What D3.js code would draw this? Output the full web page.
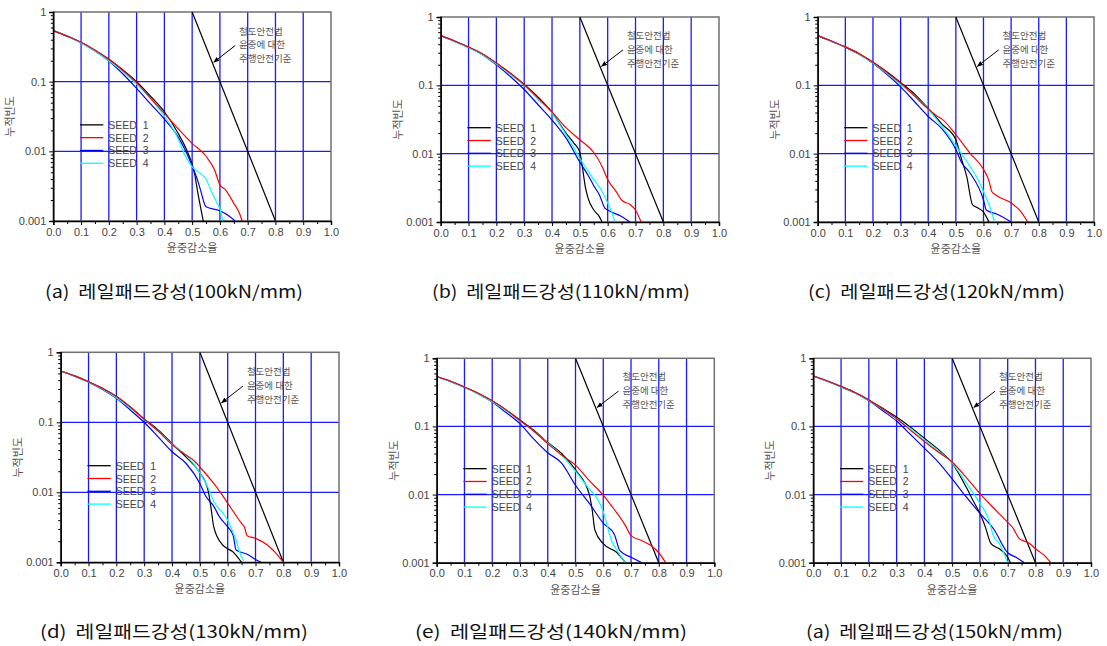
<!DOCTYPE html>
<html>
<head>
<meta charset="utf-8">
<script src="https://cdn.jsdelivr.net/npm/d3@7/dist/d3.min.js"></script>
<style>
  body { margin: 0; background: #fff; }
  text { white-space: pre; }
</style>
</head>
<body>
<div id="chart"></div>
<script>
// tick values / labels
var xTicks = [0, 0.1, 0.2, 0.3, 0.4, 0.5, 0.6, 0.7, 0.8, 0.9, 1.0];
var xMinor = [0.05, 0.15, 0.25, 0.35, 0.45, 0.55, 0.65, 0.75, 0.85, 0.95];
var yTicks = [1, 0.1, 0.01, 0.001];
var yTickLabels = ["1", "0.1", "0.01", "0.001"];
var yGrid = [0.1, 0.01];
var xGrid = [0.1, 0.2, 0.3, 0.4, 0.5, 0.6, 0.7, 0.8, 0.9];

var seedNames = ["SEED  1", "SEED  2", "SEED  3", "SEED  4"];
var seedColors = ["#000000", "#ff0000", "#0000ff", "#00ffff"];

var captions = ["(a)  레일패드강성(100kN/mm)", "(b)  레일패드강성(110kN/mm)", "(c)  레일패드강성(120kN/mm)",
                "(d)  레일패드강성(130kN/mm)", "(e)  레일패드강성(140kN/mm)", "(a)  레일패드강성(150kN/mm)"];

// 주행안전기준 line (x, y)
var criterion = [[0.5, 1], [0.8, 0.001]];
var noteLines = ["철도안전법", "윤중에 대한", "주행안전기준"];
var xLabel = "윤중감소율";
var yLabel = "누적빈도";

// panel (a) 100kN/mm
var a_seed1 = [[0,0.54],[0.05,0.45],[0.1,0.365],[0.15,0.28],[0.2,0.21],[0.25,0.148],[0.3,0.1],[0.35,0.062],[0.4,0.037],[0.45,0.018],[0.48,0.0105],[0.5,0.0065],[0.51,0.0045],[0.52,0.0026],[0.53,0.0016],[0.54,0.001]];
var a_seed2 = [[0,0.54],[0.05,0.45],[0.1,0.368],[0.15,0.285],[0.2,0.21],[0.25,0.146],[0.3,0.097],[0.35,0.058],[0.4,0.035],[0.45,0.021],[0.5,0.013],[0.55,0.0085],[0.58,0.0055],[0.6,0.0033],[0.62,0.0028],[0.65,0.0018],[0.67,0.0013],[0.68,0.001]];
var a_seed3 = [[0,0.54],[0.05,0.45],[0.1,0.362],[0.15,0.275],[0.2,0.198],[0.25,0.13],[0.3,0.08],[0.35,0.048],[0.4,0.029],[0.45,0.016],[0.48,0.0095],[0.5,0.0062],[0.52,0.0038],[0.53,0.0028],[0.55,0.0016],[0.6,0.0014],[0.63,0.0012],[0.655,0.001]];
var a_seed4 = [[0,0.54],[0.05,0.45],[0.1,0.36],[0.15,0.275],[0.2,0.2],[0.25,0.14],[0.3,0.093],[0.35,0.057],[0.4,0.032],[0.45,0.015],[0.47,0.0095],[0.5,0.006],[0.53,0.0048],[0.55,0.004],[0.57,0.0026],[0.59,0.0018],[0.6,0.0015],[0.61,0.001]];

// panel (b) 110kN/mm
var b_seed1 = [[0,0.535],[0.05,0.445],[0.1,0.36],[0.15,0.285],[0.2,0.21],[0.25,0.15],[0.3,0.103],[0.35,0.067],[0.4,0.04],[0.45,0.02],[0.48,0.014],[0.5,0.0105],[0.51,0.006],[0.52,0.0032],[0.53,0.0022],[0.55,0.0015],[0.57,0.0012],[0.58,0.001]];
var b_seed2 = [[0,0.535],[0.05,0.445],[0.1,0.365],[0.15,0.29],[0.2,0.212],[0.25,0.15],[0.3,0.102],[0.35,0.065],[0.4,0.041],[0.45,0.024],[0.5,0.016],[0.55,0.0104],[0.58,0.0065],[0.6,0.0042],[0.63,0.0028],[0.65,0.0021],[0.68,0.0018],[0.7,0.0015],[0.72,0.001]];
var b_seed3 = [[0,0.535],[0.05,0.44],[0.1,0.36],[0.15,0.28],[0.2,0.2],[0.25,0.135],[0.3,0.087],[0.35,0.052],[0.4,0.031],[0.45,0.017],[0.5,0.0075],[0.53,0.0048],[0.55,0.0034],[0.57,0.0025],[0.59,0.0016],[0.6,0.0015],[0.65,0.0012],[0.68,0.001]];
var b_seed4 = [[0,0.535],[0.05,0.44],[0.1,0.358],[0.15,0.28],[0.2,0.205],[0.25,0.145],[0.3,0.1],[0.35,0.062],[0.4,0.039],[0.45,0.019],[0.5,0.0085],[0.55,0.0042],[0.58,0.0028],[0.6,0.0019],[0.62,0.0012],[0.625,0.001]];

// panel (c) 120kN/mm
var c_seed1 = [[0,0.535],[0.05,0.445],[0.1,0.365],[0.15,0.29],[0.2,0.218],[0.25,0.158],[0.3,0.11],[0.35,0.075],[0.4,0.046],[0.45,0.027],[0.5,0.016],[0.52,0.0085],[0.54,0.0045],[0.56,0.0018],[0.58,0.0016],[0.6,0.0014],[0.62,0.001]];
var c_seed2 = [[0,0.535],[0.05,0.445],[0.1,0.365],[0.15,0.29],[0.2,0.218],[0.25,0.155],[0.3,0.108],[0.35,0.07],[0.4,0.045],[0.43,0.036],[0.45,0.032],[0.5,0.019],[0.55,0.0103],[0.6,0.0059],[0.62,0.004],[0.63,0.0028],[0.65,0.0024],[0.7,0.0019],[0.73,0.0015],[0.76,0.001]];
var c_seed3 = [[0,0.535],[0.05,0.44],[0.1,0.36],[0.15,0.285],[0.2,0.21],[0.25,0.145],[0.3,0.095],[0.35,0.058],[0.4,0.035],[0.45,0.023],[0.5,0.0115],[0.52,0.0075],[0.55,0.0053],[0.6,0.0021],[0.61,0.0015],[0.65,0.0013],[0.7,0.001]];
var c_seed4 = [[0,0.535],[0.05,0.44],[0.1,0.36],[0.15,0.285],[0.2,0.212],[0.25,0.15],[0.3,0.103],[0.35,0.07],[0.4,0.045],[0.45,0.025],[0.5,0.013],[0.55,0.0066],[0.58,0.0042],[0.6,0.0028],[0.62,0.0018],[0.64,0.001]];

// panel (d) 130kN/mm
var d_seed1 = [[0,0.54],[0.05,0.46],[0.1,0.38],[0.15,0.305],[0.2,0.233],[0.25,0.165],[0.3,0.112],[0.35,0.078],[0.4,0.05],[0.45,0.032],[0.5,0.019],[0.53,0.0105],[0.54,0.006],[0.55,0.0032],[0.58,0.0018],[0.62,0.0014],[0.65,0.001]];
var d_seed2 = [[0,0.54],[0.05,0.46],[0.1,0.38],[0.15,0.305],[0.2,0.235],[0.25,0.165],[0.3,0.11],[0.35,0.075],[0.4,0.048],[0.45,0.034],[0.48,0.028],[0.5,0.023],[0.55,0.0134],[0.57,0.0105],[0.6,0.007],[0.65,0.0036],[0.66,0.0032],[0.67,0.0024],[0.7,0.0022],[0.74,0.0018],[0.77,0.0014],[0.8,0.001]];
var d_seed3 = [[0,0.54],[0.05,0.455],[0.1,0.375],[0.15,0.295],[0.2,0.22],[0.25,0.15],[0.3,0.1],[0.35,0.062],[0.4,0.038],[0.45,0.026],[0.5,0.0134],[0.52,0.009],[0.55,0.0063],[0.57,0.0045],[0.6,0.0032],[0.62,0.0024],[0.63,0.0015],[0.67,0.0013],[0.7,0.0011],[0.72,0.001]];
var d_seed4 = [[0,0.54],[0.05,0.455],[0.1,0.375],[0.15,0.3],[0.2,0.225],[0.25,0.16],[0.3,0.11],[0.35,0.075],[0.4,0.049],[0.45,0.034],[0.5,0.019],[0.53,0.0115],[0.55,0.0074],[0.58,0.0052],[0.6,0.004],[0.62,0.0026],[0.63,0.0021],[0.64,0.0015],[0.66,0.001]];

// panel (e) 140kN/mm
var e_seed1 = [[0,0.54],[0.05,0.46],[0.1,0.378],[0.15,0.305],[0.2,0.237],[0.25,0.175],[0.3,0.124],[0.35,0.088],[0.4,0.058],[0.45,0.04],[0.5,0.023],[0.55,0.01],[0.56,0.006],[0.57,0.003],[0.6,0.0019],[0.65,0.0014],[0.68,0.001]];
var e_seed2 = [[0,0.54],[0.05,0.46],[0.1,0.38],[0.15,0.307],[0.2,0.238],[0.25,0.175],[0.3,0.122],[0.35,0.085],[0.4,0.056],[0.45,0.038],[0.5,0.027],[0.55,0.016],[0.6,0.0098],[0.63,0.0068],[0.65,0.0053],[0.68,0.0035],[0.7,0.0025],[0.74,0.0021],[0.77,0.0018],[0.8,0.0014],[0.825,0.001]];
var e_seed3 = [[0,0.54],[0.05,0.455],[0.1,0.375],[0.15,0.3],[0.2,0.228],[0.25,0.16],[0.3,0.11],[0.35,0.065],[0.4,0.041],[0.45,0.029],[0.5,0.0137],[0.55,0.0074],[0.6,0.0038],[0.64,0.0026],[0.66,0.0015],[0.7,0.0012],[0.74,0.001]];
var e_seed4 = [[0,0.54],[0.05,0.455],[0.1,0.375],[0.15,0.3],[0.2,0.23],[0.25,0.17],[0.3,0.12],[0.35,0.085],[0.4,0.057],[0.45,0.038],[0.5,0.022],[0.55,0.012],[0.58,0.0085],[0.6,0.0056],[0.63,0.0021],[0.65,0.0015],[0.68,0.001]];

// panel (f) 150kN/mm
var f_seed1 = [[0,0.55],[0.05,0.465],[0.1,0.385],[0.15,0.315],[0.2,0.245],[0.25,0.185],[0.3,0.137],[0.35,0.097],[0.4,0.067],[0.45,0.046],[0.5,0.029],[0.55,0.013],[0.58,0.0075],[0.6,0.0053],[0.62,0.0033],[0.64,0.0019],[0.67,0.0016],[0.7,0.0012],[0.71,0.001]];
var f_seed2 = [[0,0.55],[0.05,0.465],[0.1,0.385],[0.15,0.315],[0.2,0.245],[0.25,0.18],[0.3,0.13],[0.35,0.088],[0.4,0.06],[0.45,0.042],[0.5,0.03],[0.55,0.018],[0.6,0.0103],[0.65,0.0063],[0.7,0.0039],[0.72,0.0032],[0.74,0.0023],[0.78,0.0019],[0.8,0.0016],[0.83,0.0013],[0.855,0.001]];
var f_seed3 = [[0,0.55],[0.05,0.46],[0.1,0.38],[0.15,0.31],[0.2,0.238],[0.25,0.17],[0.3,0.12],[0.35,0.076],[0.4,0.048],[0.45,0.03],[0.5,0.017],[0.55,0.0093],[0.6,0.0053],[0.65,0.0031],[0.7,0.0014],[0.73,0.0012],[0.76,0.001]];
var f_seed4 = [[0,0.55],[0.05,0.46],[0.1,0.38],[0.15,0.31],[0.2,0.24],[0.25,0.178],[0.3,0.13],[0.35,0.093],[0.4,0.064],[0.45,0.044],[0.5,0.029],[0.55,0.015],[0.6,0.0074],[0.63,0.0045],[0.65,0.0024],[0.67,0.0019],[0.7,0.001]];

var panelSeries = [
  [a_seed1, a_seed2, a_seed3, a_seed4],
  [b_seed1, b_seed2, b_seed3, b_seed4],
  [c_seed1, c_seed2, c_seed3, c_seed4],
  [d_seed1, d_seed2, d_seed3, d_seed4],
  [e_seed1, e_seed2, e_seed3, e_seed4],
  [f_seed1, f_seed2, f_seed3, f_seed4]
];

// plot boxes [left, top, right, bottom] and caption placement
var boxes = [
  [53.3, 12, 331, 221], [440.7, 17, 719, 222], [817.7, 17, 1094, 222],
  [60.7, 352.3, 339, 562.3], [436.7, 358.3, 714.3, 562.7], [813.3, 358.3, 1091, 562.7]
];
var capPos = [[45, 298, 258], [432, 298, 258], [808, 298, 257], [40, 638, 268], [415, 638, 272], [806, 638, 257]];

var numFont = "'Liberation Sans', Arial, sans-serif";
var korFont = "'Noto Sans CJK KR', 'Noto Sans', sans-serif";

var svg = d3.select("#chart").append("svg")
  .attr("width", 1107).attr("height", 646)
  .style("background", "#fff");

svg.append("defs").append("marker")
  .attr("id", "arrow")
  .attr("viewBox", "0 0 10 10")
  .attr("refX", 9).attr("refY", 5)
  .attr("markerWidth", 6).attr("markerHeight", 6)
  .attr("orient", "auto")
  .append("path").attr("d", "M0,1 L10,5 L0,9 z").attr("fill", "#000");

panelSeries.forEach(function(series, p){
  var b = boxes[p];
  var L = b[0], T = b[1], R = b[2], B = b[3];
  var W = R - L, H = B - T;

  var x = d3.scaleLinear().domain([0, 1]).range([L, R]);
  var y = d3.scaleLog().domain([0.001, 1]).range([B, T]);

  var g = svg.append("g");

  g.append("clipPath").attr("id", "clip" + p)
    .append("rect").attr("x", L).attr("y", T).attr("width", W).attr("height", H);

  // grid
  g.selectAll(".vgrid").data(xGrid).enter().append("line")
    .attr("x1", function(d){ return x(d); }).attr("x2", function(d){ return x(d); })
    .attr("y1", T).attr("y2", B)
    .attr("stroke", "#1a1aff").attr("stroke-width", 1.3);
  g.selectAll(".hgrid").data(yGrid).enter().append("line")
    .attr("x1", L).attr("x2", R)
    .attr("y1", function(d){ return y(d); }).attr("y2", function(d){ return y(d); })
    .attr("stroke", "#1a1aff").attr("stroke-width", 1.3);

  // frame
  g.append("rect").attr("x", L).attr("y", T).attr("width", W).attr("height", H)
    .attr("fill", "none").attr("stroke", "#707070").attr("stroke-width", 1.5);

  // criterion line
  var line = d3.line()
    .x(function(d){ return x(d[0]); })
    .y(function(d){ return y(d[1]); });

  g.append("path").datum(criterion)
    .attr("d", line)
    .attr("fill", "none").attr("stroke", "#000").attr("stroke-width", 1.2)
    .attr("clip-path", "url(#clip" + p + ")");

  // seed curves
  var curve = d3.line()
    .x(function(d){ return x(d[0]); })
    .y(function(d){ return y(d[1]); })
    .curve(d3.curveMonotoneX);

  [0, 2, 3, 1].forEach(function(i){
    g.append("path").datum(series[i])
      .attr("d", curve)
      .attr("fill", "none")
      .attr("stroke", seedColors[i])
      .attr("stroke-width", 1.2)
      .attr("clip-path", "url(#clip" + p + ")");
  });

  // axes
  var yAxis = g.append("g").attr("transform", "translate(" + L + ",0)")
    .call(d3.axisLeft(y).tickValues(yTicks).tickSize(4).tickPadding(3)
      .tickFormat(function(d, i){ return yTickLabels[i]; }));
  var yMinorVals = [];
  [0.001, 0.01, 0.1].forEach(function(base){
    for (var k = 2; k <= 9; k++) yMinorVals.push(base * k);
  });
  var yMinor = g.append("g").attr("transform", "translate(" + L + ",0)")
    .call(d3.axisLeft(y).tickValues(yMinorVals).tickSize(2.5).tickFormat(""));
  yMinor.select(".domain").remove();

  var xAxis = g.append("g").attr("transform", "translate(0," + B + ")")
    .call(d3.axisBottom(x).tickValues(xTicks).tickSize(4).tickPadding(3)
      .tickFormat(d3.format(".1f")));
  var xMin = g.append("g").attr("transform", "translate(0," + B + ")")
    .call(d3.axisBottom(x).tickValues(xMinor).tickSize(3).tickFormat(""));
  xMin.select(".domain").remove();

  [yAxis, xAxis].forEach(function(ax){
    ax.select(".domain").attr("stroke", "#000").attr("stroke-width", 1.5);
    ax.selectAll("text").attr("fill", "#444").style("font-family", numFont).style("font-size", "11px");
  });

  // axis titles
  g.append("text")
    .attr("x", (L + R) / 2).attr("y", B + 31)
    .attr("text-anchor", "middle")
    .attr("fill", "#555")
    .style("font-family", korFont).style("font-size", "11px")
    .text(xLabel);
  g.append("text")
    .attr("transform", "translate(" + (L - 39) + "," + ((T + B) / 2) + ") rotate(-90)")
    .attr("text-anchor", "middle")
    .attr("fill", "#555")
    .style("font-family", korFont).style("font-size", "11px")
    .text(yLabel);

  // note (three lines) + arrow
  var nx = L + 0.669 * W;
  noteLines.forEach(function(t, i){
    g.append("text")
      .attr("x", nx).attr("y", T + 0.096 * H + 2.5 + i * 13.9)
      .attr("fill", "#555")
      .style("font-family", korFont).style("font-size", "9.5px")
      .text(t);
  });
  g.append("line")
    .attr("x1", x(0.655)).attr("y1", y(0.33))
    .attr("x2", x(0.578)).attr("y2", y(0.19))
    .attr("stroke", "#000").attr("stroke-width", 1)
    .attr("marker-end", "url(#arrow)");

  // legend
  var lx0 = L + 0.096 * W, lx1 = L + 0.18 * W, tx = L + 0.198 * W;
  seedNames.forEach(function(name, i){
    var ly = T + 0.54 * H + i * 12.8;
    g.append("line")
      .attr("x1", lx0).attr("x2", lx1).attr("y1", ly).attr("y2", ly)
      .attr("stroke", seedColors[i]).attr("stroke-width", 1.3);
    g.append("text")
      .attr("x", tx).attr("y", ly + 4)
      .attr("fill", "#444")
      .style("font-family", numFont).style("font-size", "10.5px")
      .text(name);
  });

  // caption
  var cp = capPos[p];
  svg.append("text")
    .attr("x", cp[0]).attr("y", cp[1])
    .attr("textLength", cp[2]).attr("lengthAdjust", "spacingAndGlyphs")
    .attr("fill", "#111")
    .style("font-family", korFont).style("font-size", "17px")
    .text(captions[p]);
});
</script>
</body>
</html>
